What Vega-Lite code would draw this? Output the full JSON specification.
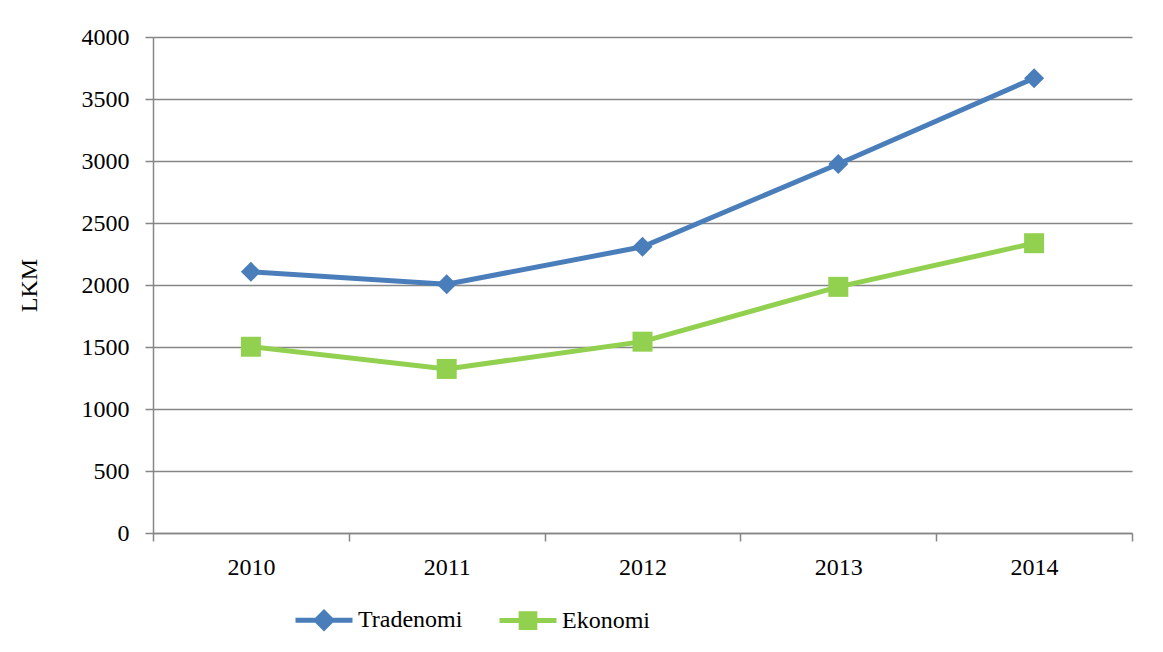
{
  "$schema": "https://vega.github.io/schema/vega-lite/v6.json",
  "width": 979,
  "height": 496,
  "autosize": {"type": "none"},
  "padding": {"left": 153, "top": 37, "right": 31, "bottom": 119},
  "background": "white",
  "data": {
    "values": [
      {"year": "2010", "series": "Tradenomi", "value": 2106},
      {"year": "2011", "series": "Tradenomi", "value": 2006},
      {"year": "2012", "series": "Tradenomi", "value": 2308},
      {"year": "2013", "series": "Tradenomi", "value": 2976},
      {"year": "2014", "series": "Tradenomi", "value": 3668},
      {"year": "2010", "series": "Ekonomi", "value": 1502},
      {"year": "2011", "series": "Ekonomi", "value": 1323},
      {"year": "2012", "series": "Ekonomi", "value": 1543},
      {"year": "2013", "series": "Ekonomi", "value": 1985},
      {"year": "2014", "series": "Ekonomi", "value": 2337}
    ]
  },
  "config": {
    "font": "Liberation Serif",
    "view": {"stroke": null},
    "axis": {
      "labelFont": "Liberation Serif",
      "labelFontSize": 24,
      "labelColor": "#000000",
      "titleFont": "Liberation Serif",
      "titleFontSize": 24,
      "titleFontWeight": "normal",
      "titleColor": "#000000",
      "domainColor": "#868686",
      "domainWidth": 1.5,
      "tickColor": "#868686",
      "tickWidth": 1.5,
      "tickSize": 8,
      "gridColor": "#868686",
      "gridWidth": 1.5,
      "gridOpacity": 1
    },
    "legend": {
      "labelFont": "Liberation Serif",
      "labelFontSize": 24,
      "labelColor": "#000000"
    }
  },
  "encoding": {
    "x": {
      "field": "year",
      "type": "ordinal",
      "scale": {"paddingInner": 0, "paddingOuter": 0},
      "axis": {"labelAngle": 0, "title": null, "tickBand": "extent", "labelPadding": 14, "grid": false}
    },
    "y": {
      "field": "value",
      "type": "quantitative",
      "scale": {"domain": [0, 4000], "nice": false},
      "axis": {
        "values": [0, 500, 1000, 1500, 2000, 2500, 3000, 3500, 4000],
        "format": "d",
        "title": "LKM",
        "grid": true,
        "labelPadding": 16,
        "titlePadding": 40
      }
    }
  },
  "layer": [
    {
      "mark": {"type": "line", "strokeWidth": 5},
      "encoding": {
        "color": {
          "field": "series",
          "type": "nominal",
          "scale": {"domain": ["Tradenomi", "Ekonomi"], "range": ["#4A7EBB", "#92D050"]},
          "legend": {
            "title": null,
            "orient": "none",
            "direction": "horizontal",
            "legendX": 140,
            "legendY": 552,
            "symbolSize": 3249,
            "labelOffset": 3,
            "columnPadding": 26,
            "symbolStrokeWidth": 5,
            "encode": {
              "symbols": {
                "update": {
                  "shape": {"signal": "datum.value === 'Tradenomi' ? 'M-1,0L1,0M0,-0.27L0.27,0L0,0.27L-0.27,0Z' : 'M-1,0L1,0M-0.24,-0.24L0.24,-0.24L0.24,0.24L-0.24,0.24Z'"},
                  "fill": {"scale": "color", "field": "value"},
                  "stroke": {"scale": "color", "field": "value"},
                  "strokeWidth": {"value": 5},
                  "opacity": {"value": 1},
                  "fillOpacity": {"value": 1}
                }
              }
            }
          }
        }
      }
    },
    {
      "transform": [{"filter": "datum.series === 'Tradenomi'"}],
      "mark": {"type": "point", "filled": true, "size": 400, "opacity": 1, "shape": "diamond", "color": "#4A7EBB"}
    },
    {
      "transform": [{"filter": "datum.series === 'Ekonomi'"}],
      "mark": {"type": "point", "filled": true, "size": 400, "opacity": 1, "shape": "square", "color": "#92D050"}
    }
  ]
}
